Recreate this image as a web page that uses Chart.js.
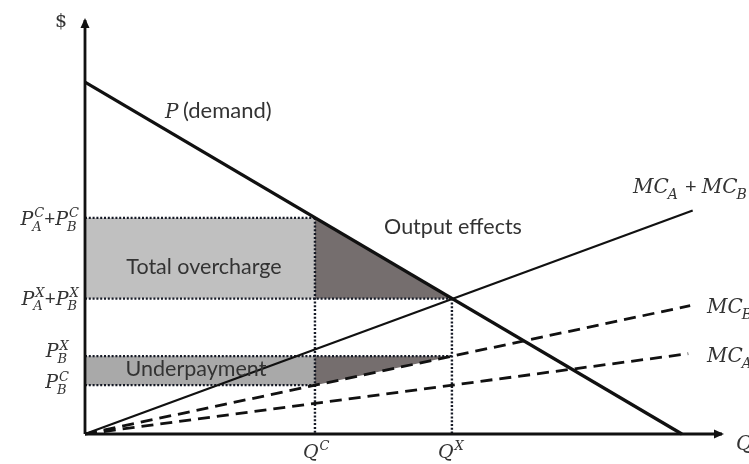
<!DOCTYPE html>
<html>
<head>
<meta charset="utf-8">
<script src="https://cdn.jsdelivr.net/npm/chart.js@4.4.0/dist/chart.umd.min.js"></script>
<style>
html, body { margin: 0; padding: 0; background: #fff; }
</style>
</head>
<body>
<canvas id="chart" width="749" height="464"></canvas>
<script>
// values, both axes run 0..100
const qLevels = [36.1, 57.6];                  // Q^C, Q^X
const priceLevels = [52.2, 32.7, 18.8, 11.8];  // PA^C+PB^C, PA^X+PB^X, PB^X, PB^C

const demandX = [0, 93.7];
const demandY = [85, 0];
const mcSumX = [0, 95.4];
const mcSumY = [0, 54.0];
const mcBX = [0, 95.0];
const mcBY = [0, 31.0];
const mcAX = [0, 94.7];
const mcAY = [0, 19.4];

const axisMax = [100, 100];

const [qC, qX] = qLevels;
const [pC, pX, pBX, pBC] = priceLevels;

const pts = (xs, ys) => xs.map((x, i) => ({x: x, y: ys[i]}));
const seg = (x1, y1, x2, y2) => [{x: x1, y: y1}, {x: x2, y: y2}];

function shape(points, color) {
    return {
        data: points.concat([points[0]]),
        showLine: true, fill: 'shape', backgroundColor: color,
        borderWidth: 0, pointRadius: 0, order: 20, clip: false
    };
}
function line(points, width, dash, order) {
    return {
        data: points, showLine: true, fill: false,
        borderColor: '#111', borderWidth: width, borderDash: dash || [],
        pointRadius: 0, order: order, clip: false, borderCapStyle: 'butt'
    };
}
function dotted(points) {
    const d = line(points, 2.4, [2, 1.8], 10);
    d.borderColor = '#161a26';
    return d;
}

const datasets = [
    // shaded areas
    shape([{x: 0, y: pC}, {x: qC, y: pC}, {x: qC, y: pX}, {x: 0, y: pX}], '#c0c0c0'),
    shape([{x: qC, y: pC}, {x: qC, y: pX}, {x: qX, y: pX}], '#756e6e'),
    shape([{x: 0, y: pBX}, {x: qC, y: pBX}, {x: qC, y: pBC}, {x: 0, y: pBC}], '#a9a9a9'),
    shape([{x: qC, y: pBX}, {x: qX, y: pBX}, {x: qC, y: pBC}], '#756e6e'),
    // dotted guides
    dotted(seg(0, pC, qC, pC)),
    dotted(seg(0, pX, qX, pX)),
    dotted(seg(0, pBX, qX, pBX)),
    dotted(seg(0, pBC, qC, pBC)),
    dotted(seg(qC, pC, qC, 0)),
    dotted(seg(qX, pX, qX, 0)),
    // curves
    line(pts(mcAX, mcAY), 2.8, [12, 7], 3),
    line(pts(mcBX, mcBY), 2.8, [12, 7], 3),
    line(pts(mcSumX, mcSumY), 2.2, null, 2),
    line(pts(demandX, demandY), 3.2, null, 1),
    // axes
    line(seg(0, 0, 0, axisMax[1]), 2.8, null, 0),
    line(seg(0, 0, axisMax[0], 0), 2.8, null, 0)
];

const SERIF = '"DejaVu Serif"';
const SANS = 'Lato';
const TEXT = '#333';

// parts: string = italic main text, {op} = upright text, {sup, sub} = scripts
function drawMath(ctx, parts, x, y, size, align) {
    const main = 'italic ' + size + 'px ' + SERIF;
    const small = 'italic ' + Math.round(size * 0.7) + 'px ' + SERIF;
    const opFont = Math.round(size * 1.0) + 'px ' + SANS;
    const widths = parts.map(p => {
        if (typeof p === 'string') { ctx.font = main; return ctx.measureText(p).width; }
        if (p.op !== undefined) { ctx.font = opFont; return ctx.measureText(p.op).width; }
        ctx.font = small;
        return Math.max(p.sup ? ctx.measureText(p.sup).width : 0, p.sub ? ctx.measureText(p.sub).width : 0) + 1;
    });
    const total = widths.reduce((a, b) => a + b, 0);
    let cx = align === 'right' ? x - total : align === 'center' ? x - total / 2 : x;
    ctx.textAlign = 'left';
    ctx.textBaseline = 'alphabetic';
    parts.forEach((p, i) => {
        if (typeof p === 'string') {
            ctx.font = main; ctx.fillText(p, cx, y);
        } else if (p.op !== undefined) {
            ctx.font = opFont; ctx.fillText(p.op, cx, y);
        } else {
            ctx.font = small;
            if (p.sup) ctx.fillText(p.sup, cx + 1, y - size * 0.4);
            if (p.sub) ctx.fillText(p.sub, cx - 1, y + size * 0.3);
        }
        cx += widths[i];
    });
}

const decorations = {
    id: 'decorations',
    afterDatasetsDraw(chart) {
        const ctx = chart.ctx;
        const xs = chart.scales.x, ys = chart.scales.y;
        const x0 = xs.getPixelForValue(0), y0 = ys.getPixelForValue(0);
        const xTop = xs.getPixelForValue(axisMax[0]), yTop = ys.getPixelForValue(axisMax[1]);
        ctx.save();
        ctx.fillStyle = '#111';
        // arrow heads
        ctx.beginPath();
        ctx.moveTo(x0, yTop - 2); ctx.lineTo(x0 - 4.5, yTop + 8); ctx.lineTo(x0 + 4.5, yTop + 8);
        ctx.closePath(); ctx.fill();
        ctx.beginPath();
        ctx.moveTo(xTop + 2, y0); ctx.lineTo(xTop - 8, y0 - 4.5); ctx.lineTo(xTop - 8, y0 + 4.5);
        ctx.closePath(); ctx.fill();

        ctx.fillStyle = TEXT;
        // axis titles
        ctx.font = '19px ' + SERIF;
        ctx.textAlign = 'center'; ctx.textBaseline = 'middle';
        ctx.fillText('$', x0 - 24, yTop + 2);
        drawMath(ctx, ['Q'], xTop + 14, y0 + 16, 20, 'left');

        // price levels
        const S = 19;
        drawMath(ctx, ['P', {sup: 'C', sub: 'A'}, {op: '+'}, 'P', {sup: 'C', sub: 'B'}],
            x0 - 6, ys.getPixelForValue(pC) + 7, S, 'right');
        drawMath(ctx, ['P', {sup: 'X', sub: 'A'}, {op: '+'}, 'P', {sup: 'X', sub: 'B'}],
            x0 - 6, ys.getPixelForValue(pX) + 6, S, 'right');
        drawMath(ctx, ['P', {sup: 'X', sub: 'B'}], x0 - 16, ys.getPixelForValue(pBX) + 1, S, 'right');
        drawMath(ctx, ['P', {sup: 'C', sub: 'B'}], x0 - 16, ys.getPixelForValue(pBC) + 3, S, 'right');

        // quantities
        drawMath(ctx, ['Q', {sup: 'C'}], xs.getPixelForValue(qC) - 12, y0 + 24, S, 'left');
        drawMath(ctx, ['Q', {sup: 'X'}], xs.getPixelForValue(qX) - 14, y0 + 24, S, 'left');

        // curve names
        drawMath(ctx, ['P'], 165, 118, 20, 'left');
        ctx.font = '22px ' + SANS;
        ctx.textAlign = 'left'; ctx.textBaseline = 'alphabetic';
        ctx.fillText('(demand)', 183, 118);
        drawMath(ctx, ['MC', {sub: 'A'}, {op: ' + '}, 'MC', {sub: 'B'}], 633, 193, 20, 'left');
        drawMath(ctx, ['MC', {sub: 'B'}], 707, 313, 20, 'left');
        drawMath(ctx, ['MC', {sub: 'A'}], 707, 362, 20, 'left');

        // area names
        ctx.font = '21.5px ' + SANS;
        ctx.textAlign = 'center';
        ctx.fillText('Total overcharge', 204, 274);
        ctx.fillText('Output effects', 453, 234);
        ctx.fillText('Underpayment', 196, 376);
        ctx.restore();
    }
};

new Chart(document.getElementById('chart'), {
    type: 'scatter',
    data: {datasets: datasets},
    options: {
        responsive: false,
        animation: false,
        layout: {padding: {left: 85, right: 27, top: 20, bottom: 30}},
        scales: {
            x: {type: 'linear', min: 0, max: axisMax[0], display: false},
            y: {type: 'linear', min: 0, max: axisMax[1], display: false}
        },
        plugins: {legend: {display: false}, tooltip: {enabled: false}}
    },
    plugins: [decorations]
});
</script>
</body>
</html>
